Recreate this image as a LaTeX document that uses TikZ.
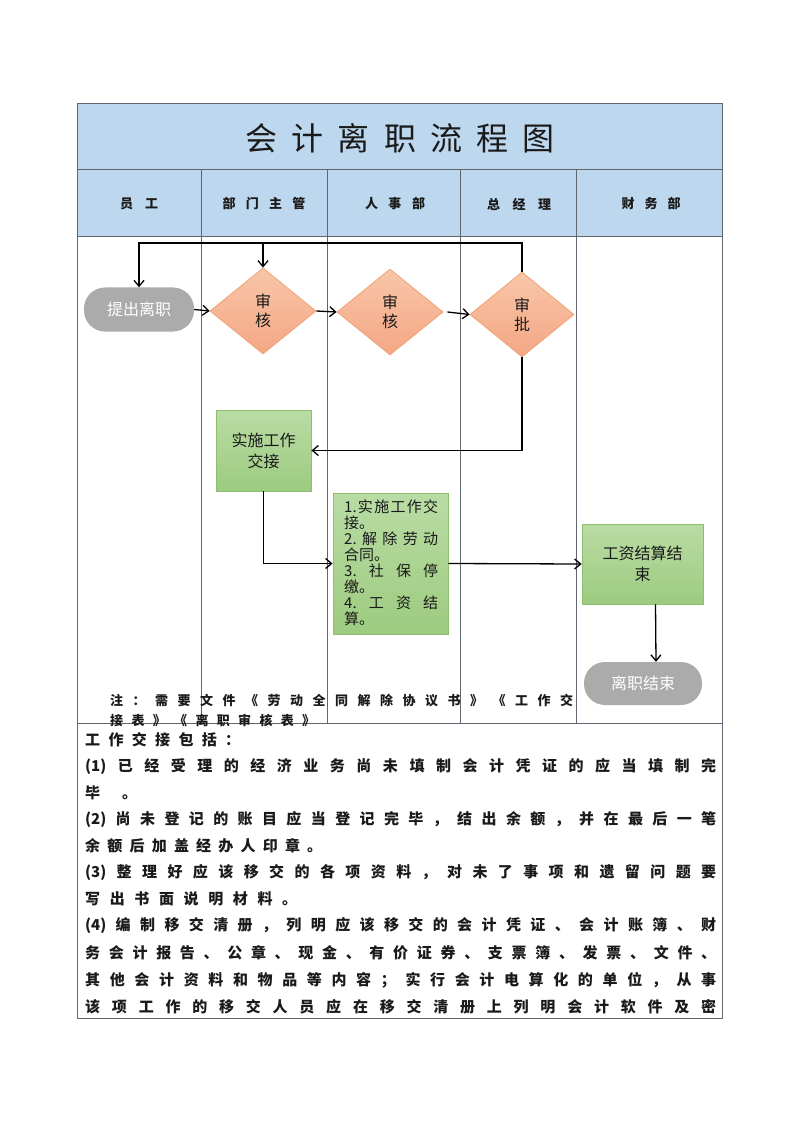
\documentclass[tikz,border=0pt]{standalone}
\usepackage{fontspec}
\setmainfont{Noto Sans CJK SC}
\usetikzlibrary{arrows.meta,shapes.geometric}
\definecolor{hdr}{HTML}{BDD7EE}
\definecolor{gridc}{HTML}{5F6770}
\definecolor{pillc}{HTML}{ABABAB}
\definecolor{dtop}{HTML}{F8C6A9}
\definecolor{dbot}{HTML}{F4A784}
\definecolor{dline}{HTML}{F0A173}
\definecolor{gtop}{HTML}{B9DCA4}
\definecolor{gbot}{HTML}{9DCB80}
\definecolor{gline}{HTML}{8DBF6D}
\definecolor{ink}{HTML}{1A1A1A}
\makeatletter
\newcommand\spr[2]{\makebox[#1][s]{\spr@a#2\spr@end}}
\def\spr@a#1{#1\spr@b}
\def\spr@b#1{\ifx#1\spr@end\else\hskip0pt plus 1fil\relax#1\expandafter\spr@b\fi}
\def\spr@end{\spr@end@x}
\makeatother
\newcommand\bodyf{\fontsize{15}{18}\selectfont\bfseries}
\tikzset{
  tblline/.style={draw=gridc, line width=1pt},
  arr/.style={draw=black, line width=1.3pt, -{Straight Barb[length=6pt,width=10pt]}},
  pillbox/.style={rectangle, rounded corners=21pt, fill=pillc, text=white, font=\fontsize{16}{19}\selectfont, inner sep=0pt},
  dia/.style={diamond, draw=dline, line width=0.8pt, top color=dtop, bottom color=dbot, minimum width=106pt, minimum height=86pt, inner sep=0pt, align=center, text=ink, font=\fontsize{16}{19}\selectfont},
  gbox/.style={rectangle, draw=gline, line width=0.8pt, top color=gtop, bottom color=gbot, inner sep=0pt, align=center, text=ink, font=\fontsize{16}{21}\selectfont},
  txt/.style={anchor=west, inner sep=0pt, text=ink},
  bx/.style={txt, font=\fontsize{15}{16}\selectfont},
  body/.style={txt, font=\bodyf},
  notef/.style={txt, font=\fontsize{13}{15}\selectfont\bfseries},
  headf/.style={inner sep=0pt, text=ink, font=\fontsize{13}{15}\selectfont\bfseries},
}
\begin{document}
\begin{tikzpicture}[x=1pt,y=-1pt]
\useasboundingbox (0,0) rectangle (800,1131);
\fill[white] (0,0) rectangle (800,1131);
% table
\fill[hdr] (77,104) rectangle (722,237);
\draw[tblline] (77,104) rectangle (722,1018);
\draw[tblline] (77,170) -- (722,170);
\draw[tblline] (77,237) -- (722,237);
\draw[tblline] (77,723) -- (722,723);
\foreach \x in {201,327,460,576} \draw[tblline] (\x,170) -- (\x,723);
% title and headers
\node[inner sep=0pt, text=ink, font=\fontsize{32}{36}\selectfont] (title) at (400,138) {\spr{309pt}{会计离职流程图}};
\node[headf] (h1) at (139,204) {\spr{38pt}{员工}};
\node[headf] (h2) at (264,204) {\spr{83pt}{部门主管}};
\node[headf] (h3) at (395,204) {\spr{60pt}{人事部}};
\node[headf] (h4) at (519,204) {\spr{64pt}{总经理}};
\node[headf] (h5) at (651,204) {\spr{59pt}{财务部}};
% flow nodes
\node[pillbox, minimum width=110pt, minimum height=44pt] (p1) at (139,309.5) {提出离职};
\node[dia] (d1) at (263,311) {审\\核};
\node[dia] (d2) at (390,312) {审\\核};
\node[dia, minimum height=85pt, minimum width=104pt] (d3) at (522,314.5) {审\\批};
\node[gbox, minimum width=95pt, minimum height=81pt] (b1) at (263.5,450.5) {实施工作\\交接};
\node[gbox, minimum width=115pt, minimum height=141pt] (b2) at (390.5,563.5) {};
\node[gbox, minimum width=121pt, minimum height=80pt] (b3) at (642.5,564) {工资结算结\\束};
\node[pillbox, minimum width=118pt, minimum height=43pt] (p2) at (643,683.5) {离职结束};
% box 2 text
\node[bx] (l1) at (344,507) {\spr{94pt}{{1.}实施工作交}};
\node[bx] (l2) at (344,522.9) {接。};
\node[bx] (l3) at (344,538.8) {\spr{94pt}{{2.}解除劳动}};
\node[bx] (l4) at (344,554.7) {合同。};
\node[bx] (l5) at (344,570.6) {\spr{94pt}{{3.}社保停}};
\node[bx] (l6) at (344,586.5) {缴。};
\node[bx] (l7) at (344,602.4) {\spr{94pt}{{4.}工资结}};
\node[bx] (l8) at (344,618.3) {算。};
% connectors
\coordinate (tl) at (139,243);
\coordinate (tm) at (263,243);
\draw[arr] (d3.north) |- (tl) -- (p1.north);
\draw[arr] (tm) -- (d1.north);
\draw[arr] (p1.east) -- (d1.west);
\draw[arr] (d1.east) -- (d2.west);
\draw[arr] ([xshift=4pt]d2.east) -- (d3.west);
\draw[arr] (d3.south) |- (b1.east);
\draw[arr] (b1.south) |- (b2.west);
\draw[arr] (b2.east) -- (b3.west);
\draw[arr] ([xshift=13pt]b3.south) -- ([xshift=13pt]p2.north);
% note
\node[notef] (n1) at (110,701) {\spr{463pt}{注：需要文件《劳动全同解除协议书》《工作交}};
\node[notef] (n2) at (110,720) {\spr{205pt}{接表》《离职审核表》}};
% body text
\node[body] (t0) at (85,740) {\spr{155pt}{工作交接包括：}};
\node[body] (t1) at (85,767) {\spr{631pt}{{(1)}已经受理的经济业务尚未填制会计凭证的应当填制完}};
\node[body] (t2) at (85,793) {\spr{52pt}{毕。}};
\node[body] (t3) at (85,820) {\spr{631pt}{{(2)}尚未登记的账目应当登记完毕，结出余额，并在最后一笔}};
\node[body] (t4) at (85,846) {\spr{237pt}{余额后加盖经办人印章。}};
\node[body] (t5) at (85,873) {\spr{631pt}{{(3)}整理好应该移交的各项资料，对未了事项和遗留问题要}};
\node[body] (t6) at (85,899) {\spr{212pt}{写出书面说明材料。}};
\node[body] (t7) at (85,926) {\spr{631pt}{{(4)}编制移交清册，列明应该移交的会计凭证、会计账簿、财}};
\node[body] (t8) at (85,953) {\spr{631pt}{务会计报告、公章、现金、有价证券、支票簿、发票、文件、}};
\node[body] (t9) at (85,980) {\spr{631pt}{其他会计资料和物品等内容；实行会计电算化的单位，从事}};
\node[body] (t10) at (85,1007) {\spr{631pt}{该项工作的移交人员应在移交清册上列明会计软件及密}};
\end{tikzpicture}
\end{document}
